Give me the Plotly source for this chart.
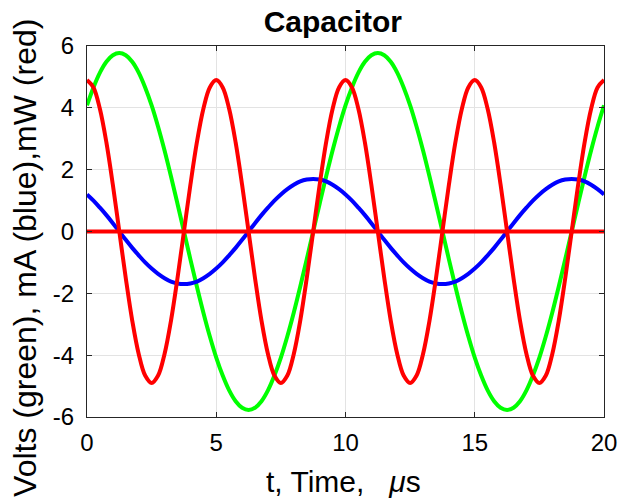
import plotly.graph_objects as go

t_us = [i * 0.25 for i in range(81)]

volts_green = [4.08, 4.66, 5.14, 5.49, 5.70, 5.77, 5.70, 5.49, 5.14, 4.66,
               4.08, 3.39, 2.62, 1.78, 0.90, 0.00, -0.90, -1.78, -2.62, -3.39,
               -4.08, -4.66, -5.14, -5.49, -5.70, -5.77, -5.70, -5.49, -5.14, -4.66,
               -4.08, -3.39, -2.62, -1.78, -0.90, 0.00, 0.90, 1.78, 2.62, 3.39,
               4.08, 4.66, 5.14, 5.49, 5.70, 5.77, 5.70, 5.49, 5.14, 4.66,
               4.08, 3.39, 2.62, 1.78, 0.90, 0.00, -0.90, -1.78, -2.62, -3.39,
               -4.08, -4.66, -5.14, -5.49, -5.70, -5.77, -5.70, -5.49, -5.14, -4.66,
               -4.08, -3.39, -2.62, -1.78, -0.90, 0.00, 0.90, 1.78, 2.62, 3.39,
               4.08]
current_blue = [1.20, 1.00, 0.77, 0.53, 0.27, 0.00, -0.27, -0.53, -0.77, -1.00,
                -1.20, -1.37, -1.51, -1.62, -1.68, -1.70, -1.68, -1.62, -1.51, -1.37,
                -1.20, -1.00, -0.77, -0.53, -0.27, 0.00, 0.27, 0.53, 0.77, 1.00,
                1.20, 1.37, 1.51, 1.62, 1.68, 1.70, 1.68, 1.62, 1.51, 1.37,
                1.20, 1.00, 0.77, 0.53, 0.27, 0.00, -0.27, -0.53, -0.77, -1.00,
                -1.20, -1.37, -1.51, -1.62, -1.68, -1.70, -1.68, -1.62, -1.51, -1.37,
                -1.20, -1.00, -0.77, -0.53, -0.27, 0.00, 0.27, 0.53, 0.77, 1.00,
                1.20, 1.37, 1.51, 1.62, 1.68, 1.70, 1.68, 1.62, 1.51, 1.37,
                1.20]
power_red = [4.90, 4.66, 3.96, 2.88, 1.51, 0.00, -1.51, -2.88, -3.96, -4.66,
             -4.90, -4.66, -3.96, -2.88, -1.51, 0.00, 1.51, 2.88, 3.96, 4.66,
             4.90, 4.66, 3.96, 2.88, 1.51, 0.00, -1.51, -2.88, -3.96, -4.66,
             -4.90, -4.66, -3.96, -2.88, -1.51, 0.00, 1.51, 2.88, 3.96, 4.66,
             4.90, 4.66, 3.96, 2.88, 1.51, 0.00, -1.51, -2.88, -3.96, -4.66,
             -4.90, -4.66, -3.96, -2.88, -1.51, 0.00, 1.51, 2.88, 3.96, 4.66,
             4.90, 4.66, 3.96, 2.88, 1.51, 0.00, -1.51, -2.88, -3.96, -4.66,
             -4.90, -4.66, -3.96, -2.88, -1.51, 0.00, 1.51, 2.88, 3.96, 4.66,
             4.90]
zero_t = [0, 20]
zero_line = [0, 0]

x_ticks = [0, 5, 10, 15, 20]
x_tick_text = ["0", "5", "10", "15", "20"]
y_ticks = [-6, -4, -2, 0, 2, 4, 6]
y_tick_text = ["-6", "-4", "-2", "0", "2", "4", "6"]

title_text = "<b>Capacitor</b>"
x_label = "t, Time,   <i>μ</i>s"
y_label = "Volts (green), mA (blue),mW (red)"

FONT = "Liberation Sans, Arial, Helvetica, sans-serif"
LW = 4

fig = go.Figure()
fig.add_trace(go.Scatter(x=t_us, y=volts_green, mode="lines",
                         line=dict(color="#00ff00", width=LW, shape="spline")))
fig.add_trace(go.Scatter(x=t_us, y=current_blue, mode="lines",
                         line=dict(color="#0000ff", width=LW, shape="spline")))
fig.add_trace(go.Scatter(x=zero_t, y=zero_line, mode="lines",
                         line=dict(color="#ff0000", width=LW)))
fig.add_trace(go.Scatter(x=t_us, y=power_red, mode="lines",
                         line=dict(color="#ff0000", width=LW, shape="spline")))

axis_common = dict(
    showline=True, linecolor="#262626", linewidth=1, mirror="ticks",
    ticks="inside", ticklen=5, tickcolor="#262626",
    showgrid=True, gridcolor="#e3e3e3", gridwidth=1,
    zeroline=False, automargin=False,
    tickfont=dict(size=24, color="#000000", family=FONT),
)

fig.update_layout(
    width=621, height=502,
    margin=dict(l=87, r=17, t=46, b=85),
    paper_bgcolor="white", plot_bgcolor="white",
    showlegend=False,
    font=dict(family=FONT, color="#000000"),
    title=dict(text=title_text, x=0.536, xanchor="center", xref="container",
               y=0.958, yanchor="middle", yref="container",
               font=dict(size=30, family=FONT, color="#000000")),
    xaxis=dict(range=[0, 20], tickvals=x_ticks, ticktext=x_tick_text,
               ticklabelstandoff=4, **axis_common),
    yaxis=dict(range=[-6, 6], tickvals=y_ticks, ticktext=y_tick_text,
               ticklabelstandoff=7, **axis_common),
    annotations=[
        dict(text=x_label, xref="paper", yref="paper", x=0.496, y=-0.175,
             xanchor="center", yanchor="middle", showarrow=False,
             font=dict(size=30, family=FONT, color="#000000")),
        dict(text=y_label, xref="paper", yref="paper", x=-0.12, y=0.4286,
             xanchor="center", yanchor="middle", showarrow=False, textangle=-90,
             font=dict(size=32, family=FONT, color="#000000")),
    ],
)

fig.write_html("out.html", config={"displayModeBar": False},
               post_script="document.body.style.margin='0';")
